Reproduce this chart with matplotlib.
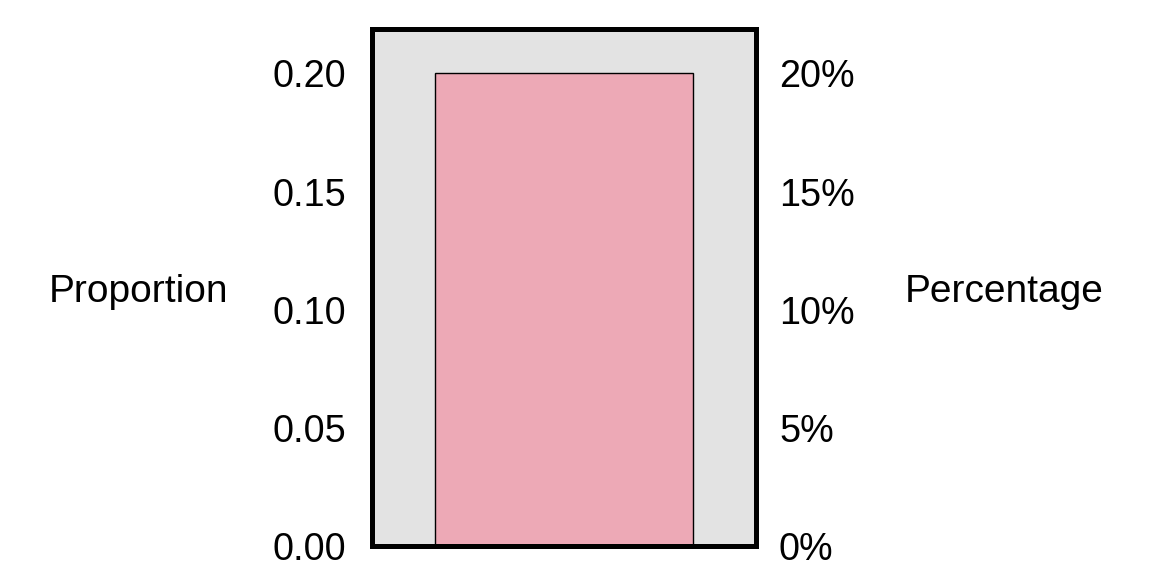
import matplotlib.pyplot as plt
from matplotlib.ticker import FuncFormatter

# data
categories = ['']
proportions = [0.20]
prop_ticks = [0.00, 0.05, 0.10, 0.15, 0.20]

plt.rcParams['font.family'] = ['Liberation Sans', 'DejaVu Sans']

fig = plt.figure(figsize=(11.52, 5.76), dpi=100)
ax = fig.add_axes([0.3225, 0.0521, 0.3338, 0.8984])
ax.set_facecolor('#e3e3e3')

ax.bar(range(len(categories)), proportions, width=0.8,
       color='#eda9b6', edgecolor='black', linewidth=1.0)
ax.set_xlim(-0.596, 0.596)
ax.set_ylim(0, 0.219)
ax.set_xticks([])

ax.set_yticks(prop_ticks)
ax.yaxis.set_major_formatter(FuncFormatter(lambda v, p: f'{v:.2f}'))
ax.tick_params(axis='y', length=0, pad=18, labelsize=27.2)

for s in ax.spines.values():
    s.set_linewidth(3.6)

ax2 = ax.twinx()
ax2.set_ylim(0, 0.219)
ax2.set_yticks(prop_ticks)
ax2.yaxis.set_major_formatter(FuncFormatter(lambda v, p: f'{v*100:.0f}%'))
ax2.tick_params(axis='y', length=0, pad=16.5, labelsize=27.2)
for s in ax2.spines.values():
    s.set_linewidth(3.6)

ax.set_ylabel('Proportion', rotation=0, ha='right', va='center', fontsize=28)
ax.yaxis.set_label_coords(-0.373, 0.49)
ax2.set_ylabel('Percentage', rotation=0, ha='left', va='center', fontsize=28)
ax2.yaxis.set_label_coords(1.3875, 0.49)

fig.savefig('out.png', dpi=100)
